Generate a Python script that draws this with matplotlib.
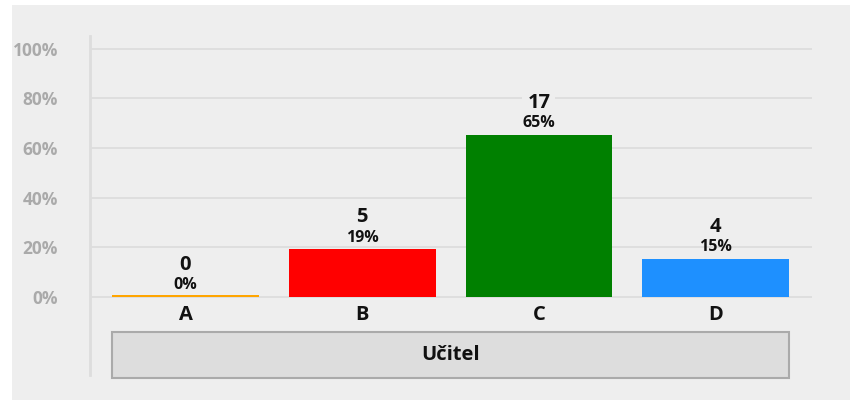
import matplotlib.pyplot as plt
from matplotlib.patches import Rectangle

# data
categories = ['A', 'B', 'C', 'D']
counts = [0, 5, 17, 4]
bar_colors = ['#FFA500', '#FF0000', '#008000', '#1E90FF']
group_label = 'Učitel'
y_ticks = [0, 20, 40, 60, 80, 100]

total = sum(counts)
percents = [100.0 * c / total for c in counts]

plt.rcParams['font.family'] = ['Open Sans', 'DejaVu Sans']

W, H = 850, 400
fig = plt.figure(figsize=(8.5, 4), dpi=100)
fig.patch.set_facecolor('white')
bg = '#eeeeee'
fig.patches.append(Rectangle((12 / W, 0), 1, (H - 5) / H, transform=fig.transFigure,
                             facecolor=bg, edgecolor='none', zorder=-10))

ax = fig.add_axes([90 / W, (H - 375) / H, (812 - 90) / W, (375 - 36) / H])
ax.set_facecolor('none')
ax.set_zorder(5)

x = list(range(len(categories)))
ax.set_xlim(-0.54, 3.545)
ax.set_ylim(-31.5, 105.2)

for v in y_ticks:
    ax.axhline(v, color='#dddddd', lw=1.3, zorder=1)

# zero-value bar still shows as a thin line
heights = [max(p, 0.6) for p in percents]
ax.bar(x, heights, width=0.83, color=bar_colors, zorder=2)

for xi, c, p in zip(x, counts, percents):
    ax.text(xi, p + 4.6, f'{p:.0f}%', ha='center', va='center', fontsize=11.5,
            fontweight='bold', color='#111111', zorder=6)
    ax.text(xi, p + 12.9, str(c), ha='center', va='center', fontsize=14.5,
            fontweight='bold', color='#111111', zorder=4,
            bbox=dict(boxstyle='square,pad=0.25', facecolor=bg, edgecolor='none'))
    ax.text(xi, -7.2, categories[xi], ha='center', va='center', fontsize=14.5,
            fontweight='bold', color='#111111')

# group box under categories
ax.add_patch(Rectangle((-0.415, -32.7), 3.83, 18.6, facecolor='#dddddd',
                       edgecolor='#aaaaaa', lw=1.5, clip_on=False, zorder=3))
ax.text(1.5, -23.4, group_label, ha='center', va='center', fontsize=14.5,
        fontweight='bold', color='#111111', zorder=4)

ax.set_yticks(y_ticks)
ax.set_yticklabels([f'{v}%' for v in y_ticks], fontsize=12.5, fontweight='bold',
                   color='#aaaaaa')
ax.tick_params(axis='y', length=0, pad=23)
ax.set_xticks([])
for s in ['top', 'right', 'bottom']:
    ax.spines[s].set_visible(False)
ax.spines['left'].set_color('#dddddd')
ax.spines['left'].set_linewidth(2)

fig.savefig('out.png', dpi=100)
